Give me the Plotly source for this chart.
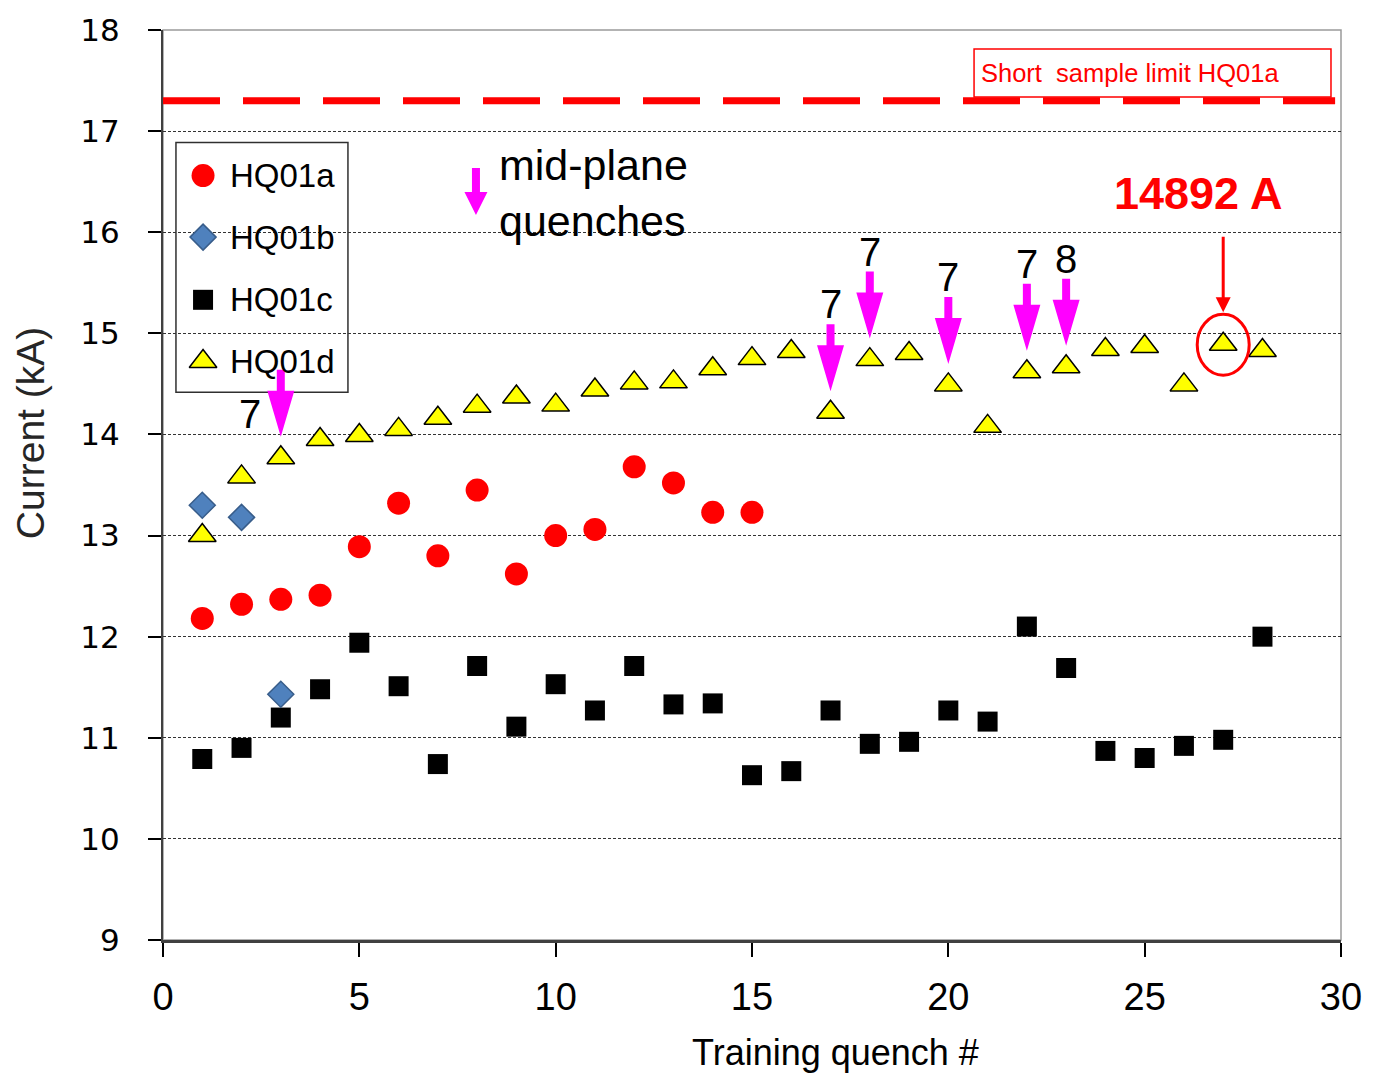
import plotly.graph_objects as go

# Training quench currents (kA) for the four HQ01 magnet assemblies
quench_a = list(range(1, 16))
current_a = [12.18, 12.32, 12.37, 12.41, 12.89, 13.32, 12.80, 13.45, 12.62,
             13.00, 13.06, 13.68, 13.52, 13.23, 13.23]

quench_b = [1, 2, 3]
current_b = [13.30, 13.18, 11.43]

quench_c = list(range(1, 29))
current_c = [10.79, 10.90, 11.20, 11.48, 11.94, 11.51, 10.74, 11.71, 11.11,
             11.53, 11.27, 11.71, 11.33, 11.34, 10.63, 10.67, 11.27, 10.94,
             10.96, 11.27, 11.16, 12.10, 11.69, 10.87, 10.80, 10.92, 10.98,
             12.00]

quench_d = list(range(1, 29))
current_d = [13.00, 13.58, 13.77, 13.95, 13.99, 14.05, 14.16, 14.28, 14.37,
             14.29, 14.44, 14.51, 14.52, 14.65, 14.75, 14.82, 14.22, 14.74,
             14.80, 14.49, 14.08, 14.62, 14.67, 14.84, 14.87, 14.49, 14.892,
             14.83]

# Short sample limit of HQ01a (kA)
short_sample_limit = 17.3

# HQ01d quenches that started in the mid-plane, with the coil number
midplane_quench = [3, 17, 18, 20, 22, 23]
midplane_coil = ["7", "7", "7", "7", "7", "8"]

# Highlighted maximum quench
max_quench = 27
max_label = "14892 A"

series_names = ["HQ01a", "HQ01b", "HQ01c", "HQ01d"]

MAGENTA = "#FF00FF"
RED = "#FF0000"

style_a = dict(symbol="circle", size=23, color=RED, line=dict(width=0))
style_b = dict(symbol="diamond", size=20, color="#4F81BD",
               line=dict(color="#385D8A", width=1.5))
style_c = dict(symbol="square", size=20, color="#000000", line=dict(width=0))
style_d = dict(symbol="triangle-up", size=24, color="#FFFF00",
               line=dict(color="#000000", width=1.5))

fig = go.Figure()
fig.add_trace(go.Scatter(x=quench_a, y=current_a, mode="markers",
                         name=series_names[0], marker=style_a))
fig.add_trace(go.Scatter(x=quench_c, y=current_c, mode="markers",
                         name=series_names[2], marker=style_c))
fig.add_trace(go.Scatter(x=quench_b, y=current_b, mode="markers",
                         name=series_names[1], marker=style_b))
fig.add_trace(go.Scatter(x=quench_d, y=current_d, mode="markers",
                         name=series_names[3], marker=style_d))

# Hand-placed legend: symbols on an overlay axis spanning the plot area
legend_x = 0.034
legend_y = [0.840, 0.7724, 0.7035, 0.6357]
for name, st, ly in zip(series_names, [style_a, style_b, style_c, style_d], legend_y):
    fig.add_trace(go.Scatter(x=[legend_x], y=[ly], mode="markers", marker=st,
                             xaxis="x2", yaxis="y2", showlegend=False,
                             hoverinfo="skip"))

shapes = []
annotations = []

# plot frame (top/right in grey)
shapes.append(dict(type="rect", xref="paper", yref="paper", x0=0, x1=1, y0=0, y1=1,
                   line=dict(color="#9A9A9A", width=1.5), layer="between"))

# legend box
shapes.append(dict(type="rect", xref="paper", yref="paper",
                   x0=0.011, x1=0.157, y0=0.6018, y1=0.8764,
                   fillcolor="white", line=dict(color="#303030", width=1.5),
                   layer="between"))
for name, ly in zip(series_names, legend_y):
    annotations.append(dict(x=0.0552, y=ly, xref="paper", yref="paper",
                            text=name, showarrow=False, xanchor="left",
                            yanchor="middle",
                            font=dict(family="Liberation Sans, Arial", size=33,
                                      color="#000000")))

# short sample limit line and its label
shapes.append(dict(type="line", xref="paper", yref="y", x0=0, x1=0.995,
                   y0=short_sample_limit, y1=short_sample_limit,
                   line=dict(color=RED, width=7, dash="57px,23px"), layer="above"))
shapes.append(dict(type="rect", xref="paper", yref="paper",
                   x0=0.6885, x1=0.9915, y0=0.9265, y1=0.979,
                   fillcolor="white", line=dict(color=RED, width=1.5),
                   layer="above"))
annotations.append(dict(x=0.6925, y=0.9525, xref="paper", yref="paper",
                        text="Short\u00a0 sample limit HQ01a", showarrow=False,
                        xanchor="left", yanchor="middle",
                        font=dict(family="Liberation Sans, Arial", size=25.5,
                                  color=RED)))


def arrow_path(gap, total, head_len, head_w, shaft_w):
    """Block arrow pointing down, tip `gap` px above the anchor (pixel units, +y up)."""
    hw, sw = head_w / 2, shaft_w / 2
    pts = [(0, gap), (-hw, gap + head_len), (-sw, gap + head_len),
           (-sw, gap + total), (sw, gap + total), (sw, gap + head_len),
           (hw, gap + head_len)]
    return "M" + " L".join(f"{x:.1f},{y:.1f}" for x, y in pts) + " Z"


# mid-plane quench arrows above the HQ01d points
d_lookup = dict(zip(quench_d, current_d))
for q, coil in zip(midplane_quench, midplane_coil):
    yq = d_lookup[q]
    shapes.append(dict(type="path", xref="x", yref="y",
                       xsizemode="pixel", ysizemode="pixel",
                       xanchor=q, yanchor=yq,
                       path=arrow_path(21, 67, 46, 27, 8),
                       fillcolor=MAGENTA, line=dict(width=0), layer="above"))
    if q == 3:
        pos = dict(xshift=-31, yshift=44)
    else:
        pos = dict(xshift=0, yshift=108)
    annotations.append(dict(x=q, y=yq, xref="x", yref="y", text=coil,
                            showarrow=False, xanchor="center", yanchor="middle",
                            font=dict(family="Liberation Sans, Arial", size=40,
                                      color="#000000"), **pos))

# key for the mid-plane arrows
shapes.append(dict(type="path", xref="x", yref="y",
                   xsizemode="pixel", ysizemode="pixel",
                   xanchor=7.97, yanchor=16.17,
                   path=arrow_path(0, 47, 23, 23, 8),
                   fillcolor=MAGENTA, line=dict(width=0), layer="above"))
annotations.append(dict(x=0.2835, y=16.385, xref="paper", yref="y",
                        text="mid-plane<br>quenches", showarrow=False,
                        xanchor="left", yanchor="middle", align="left",
                        font=dict(family="Liberation Sans, Arial", size=43,
                                  color="#000000")))

# maximum quench highlight
max_val = d_lookup[max_quench]
shapes.append(dict(type="circle", xref="x", yref="y",
                   xsizemode="pixel", ysizemode="pixel",
                   xanchor=max_quench, yanchor=max_val,
                   x0=-26, x1=26, y0=-31, y1=30,
                   line=dict(color=RED, width=3), layer="above"))
annotations.append(dict(x=max_quench, y=max_val, xref="x", yref="y",
                        text="", showarrow=True, arrowhead=2, arrowsize=1,
                        arrowwidth=3, arrowcolor=RED, ax=0, ay=-77,
                        standoff=0, yshift=32))
annotations.append(dict(x=0.8786, y=16.385, xref="paper", yref="y",
                        text="<b>" + max_label + "</b>", showarrow=False,
                        xanchor="center", yanchor="middle",
                        font=dict(family="Liberation Sans, Arial", size=45,
                                  color=RED)))

# axis titles
annotations.append(dict(x=-0.1129, y=0.557, xref="paper", yref="paper",
                        text="Current (kA)", showarrow=False, textangle=-90,
                        xanchor="center", yanchor="middle",
                        font=dict(family="Liberation Sans, Arial", size=39,
                                  color="#262626")))
annotations.append(dict(x=0.5705, y=-0.1236, xref="paper", yref="paper",
                        text="Training quench #", showarrow=False,
                        xanchor="center", yanchor="middle",
                        font=dict(family="Liberation Sans, Arial", size=36,
                                  color="#000000")))

fig.update_layout(
    width=1383, height=1076,
    margin=dict(l=163, r=42, t=26, b=136),
    paper_bgcolor="white", plot_bgcolor="white",
    showlegend=False,
    shapes=shapes, annotations=annotations,
    xaxis=dict(range=[0, 30], tickvals=[0, 5, 10, 15, 20, 25, 30],
               showgrid=False, zeroline=False,
               showline=True, linecolor="#404040", linewidth=2.5,
               ticks="outside", ticklen=14, tickwidth=1.5, tickcolor="#000000",
               ticklabelstandoff=8,
               tickfont=dict(family="Liberation Sans, Arial", size=38,
                             color="#000000")),
    yaxis=dict(range=[9, 18], tickvals=list(range(9, 19)),
               showgrid=True, gridcolor="#333333", gridwidth=1,
               griddash="3px,2px", zeroline=False,
               showline=True, linecolor="#404040", linewidth=2,
               ticks="outside", ticklen=13, tickwidth=1.5, tickcolor="#000000",
               ticklabelstandoff=22,
               tickfont=dict(family="DejaVu Sans, Verdana", size=31,
                             color="#000000")),
    xaxis2=dict(range=[0, 1], overlaying="x", anchor="y2", visible=False),
    yaxis2=dict(range=[0, 1], overlaying="y", anchor="x2", visible=False),
)

fig.write_html("out.html")
